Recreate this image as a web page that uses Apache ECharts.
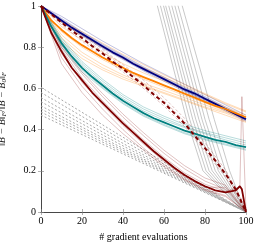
<!DOCTYPE html>
<html><head><meta charset="utf-8">
<script src="https://cdn.jsdelivr.net/npm/echarts@6/dist/echarts.min.js"></script>
<style>html,body{margin:0;padding:0;background:#fff}#c{width:258px;height:243px}</style>
</head><body><div id="c"></div>
<script>
// ---- data ----
const X21 = [0,5,10,15,20,25,30,35,40,45,50,55,60,65,70,75,80,85,90,95,100];
const X11 = [0,10,20,30,40,50,60,70,80,90,100];
const xTicks = [0,20,40,60,80,100];
const yTicks = [0,0.2,0.4,0.6,0.8,1];

const navyMean   = [1,.965,.93,.895,.865,.835,.805,.775,.75,.72,.695,.67,.645,.62,.595,.575,.55,.525,.5,.475,.45];
const orangeMean = [1,.93,.885,.845,.81,.78,.75,.725,.70,.675,.655,.635,.615,.595,.575,.555,.535,.515,.5,.48,.46];
const tealMean   = [1,.90,.82,.755,.70,.655,.615,.575,.54,.51,.48,.455,.435,.415,.395,.38,.365,.35,.34,.325,.315];
const redDashMean= [1,.96,.92,.88,.845,.805,.77,.73,.695,.655,.615,.57,.53,.48,.43,.37,.31,.25,.185,.11,0];
const redMeanX   = [0,5,10,15,20,25,30,35,40,45,50,55,60,65,70,75,80,85,90,95,97,98,100];
const redMean    = [1,.87,.78,.70,.64,.58,.53,.48,.43,.385,.34,.295,.255,.215,.18,.15,.125,.105,.095,.105,.125,.11,0];

const navyRuns = [
  [1,.94,.875,.815,.76,.705,.655,.605,.56,.51,.46],
  [1,.925,.86,.80,.745,.69,.64,.59,.545,.495,.445],
  [1,.95,.89,.83,.775,.72,.67,.62,.57,.52,.47],
  [1,.92,.855,.795,.74,.685,.635,.585,.54,.49,.44],
  [1,.935,.87,.81,.755,.70,.65,.60,.555,.505,.455],
  [1,.93,.86,.80,.745,.69,.645,.59,.545,.50,.445]
];
const orangeRuns = [
  [1,.92,.86,.80,.745,.70,.655,.61,.57,.525,.485],
  [1,.86,.775,.715,.665,.625,.59,.555,.52,.485,.45],
  [1,.90,.835,.775,.72,.675,.635,.595,.55,.51,.47],
  [1,.845,.76,.70,.655,.615,.58,.545,.51,.48,.44],
  [1,.875,.80,.74,.69,.645,.605,.565,.53,.49,.455],
  [1,.93,.875,.82,.765,.715,.665,.62,.575,.53,.49],
  [1,.83,.745,.69,.645,.61,.575,.54,.505,.47,.435]
];
const tealRuns = [
  [1,.835,.72,.635,.56,.50,.455,.415,.385,.36,.335],
  [1,.81,.69,.605,.53,.47,.425,.385,.355,.33,.305],
  [1,.845,.73,.645,.57,.51,.465,.425,.395,.37,.345],
  [1,.80,.68,.60,.525,.465,.42,.38,.35,.325,.30],
  [1,.83,.71,.625,.55,.49,.445,.41,.38,.35,.325]
];
const redRuns = [
  [1,.80,.67,.56,.46,.37,.285,.21,.15,.11,0],
  [1,.75,.61,.50,.40,.31,.23,.16,.11,.08,0],
  [1,.72,.58,.47,.38,.30,.22,.155,.105,.075,0],
  [1,.81,.68,.575,.475,.385,.30,.225,.165,.13,0],
  [1,.77,.63,.52,.42,.33,.245,.17,.12,.12,0]
];
const redSpikeX = [0,10,20,30,40,50,60,70,80,90,97,98,100];
const redSpikeY = [1,.79,.65,.54,.44,.35,.265,.19,.135,.10,.12,.56,0];
const redDashRuns = [
  [1,.93,.86,.79,.715,.64,.555,.455,.335,.205,.02],
  [1,.91,.83,.755,.68,.60,.515,.415,.295,.17,0],
  [1,.925,.85,.78,.705,.625,.54,.44,.32,.19,.01]
];
const grayDashStart = [.605,.58,.555,.535,.515,.50,.485,.47];
const grayDashX = [0,100];
const grayDashEnd = [0,0,0,0,0,0,0,0];
const graySteepX = [
  [55.5,71,79,96,100],[57,72.5,80.5,96,100],[58.5,74,82,96.5,100],
  [59.5,75.5,83.5,97,100],[61,77,85,97,100],[62.5,78.5,86.5,97.5,100],
  [64,80,88,98,100],[65.5,82,90,98,100],[67.5,84.5,92,98.5,100]
];
const graySteepY = [1.05,.45,.2,.03,0];

// ---- chart ----
const NAVY='#000080', ORANGE='#ff8000', TEAL='#008080', DRED='#800000';
const pairs=(xs,ys)=>xs.map((x,i)=>[x,ys[i]]);
const series=[];
const line=(data,color,width,type,z)=>({type:'line',data,showSymbol:false,silent:true,
  lineStyle:{color,width,type:type||'solid'},z:z||2,animation:false,clip:true});

grayDashStart.forEach((s,i)=>series.push(line(pairs(grayDashX,[s,grayDashEnd[i]]),'#a8a8a8',1,[2,2],1)));
graySteepX.forEach(xs=>series.push(line(pairs(xs,graySteepY),'#b0b0b0',0.7,'solid',1)));
navyRuns.forEach(r=>series.push(line(pairs(X11,r),'rgba(0,0,128,0.35)',0.7)));
orangeRuns.forEach(r=>series.push(line(pairs(X11,r),'rgba(255,128,0,0.4)',0.7)));
tealRuns.forEach(r=>series.push(line(pairs(X11,r),'rgba(0,128,128,0.4)',0.7)));
redRuns.forEach(r=>series.push(line(pairs(X11,r),'rgba(128,0,0,0.35)',0.7)));
series.push(line(pairs(redSpikeX,redSpikeY),'rgba(128,0,0,0.35)',0.7));
redDashRuns.forEach(r=>series.push(line(pairs(X11,r),'rgba(128,0,0,0.35)',0.7,[3,2])));
series.push(line(pairs(X21,navyMean),NAVY,1.8,'solid',5));
series.push(line(pairs(X21,orangeMean),ORANGE,1.8,'solid',5));
series.push(line(pairs(X21,tealMean),TEAL,1.8,'solid',5));
series.push(line(pairs(redMeanX,redMean),DRED,1.8,'solid',5));
series.push(line(pairs(X21,redDashMean),DRED,2,[4,3],5));

const FONT='"Liberation Serif","DejaVu Serif",serif';
const axisLine={show:true,lineStyle:{color:'#404040',width:0.8}};
const tick={show:true,inside:true,length:3,lineStyle:{color:'#808080',width:0.6}};
const chart=echarts.init(document.getElementById('c'),null,{renderer:'canvas'});
chart.setOption({
  animation:false,
  grid:{left:41,right:12,top:6,bottom:31,containLabel:false,outerBoundsMode:'none'},
  xAxis:[{type:'value',min:0,max:100,interval:20,position:'bottom',
    axisLine,axisTick:tick,splitLine:{show:false},
    axisLabel:{fontFamily:FONT,fontSize:10,color:'#000',margin:4,formatter:v=>xTicks.includes(v)?String(v):''},
    name:'# gradient evaluations',nameLocation:'middle',nameGap:20,
    nameTextStyle:{fontFamily:FONT,fontSize:10,color:'#000'}},
   {type:'value',min:0,max:100,interval:20,position:'top',axisLine,axisTick:tick,axisLabel:{show:false},splitLine:{show:false}}],
  yAxis:[{type:'value',min:0,max:1,interval:0.2,position:'left',
    axisLine,axisTick:tick,splitLine:{show:false},
    axisLabel:{fontFamily:FONT,fontSize:10,color:'#000',margin:5,formatter:v=>{const t=yTicks.find(u=>Math.abs(u-v)<1e-9);return t===undefined?'':String(+t.toFixed(1));}},
    name:'{i|‖B − B\u0302‖}{s|F}{i|/‖B − B\u0302}{s|0}{i|‖}{s|F}',nameLocation:'middle',nameGap:33,nameRotate:90,
    nameTextStyle:{rich:{i:{fontFamily:FONT,fontStyle:'italic',fontSize:10,color:'#222'},s:{fontFamily:FONT,fontStyle:'italic',fontSize:7,color:'#222',padding:[4,0,0,0]}}}},
   {type:'value',min:0,max:1,interval:0.2,position:'right',axisLine,axisTick:tick,axisLabel:{show:false},splitLine:{show:false}}],
  series
});
</script></body></html>
